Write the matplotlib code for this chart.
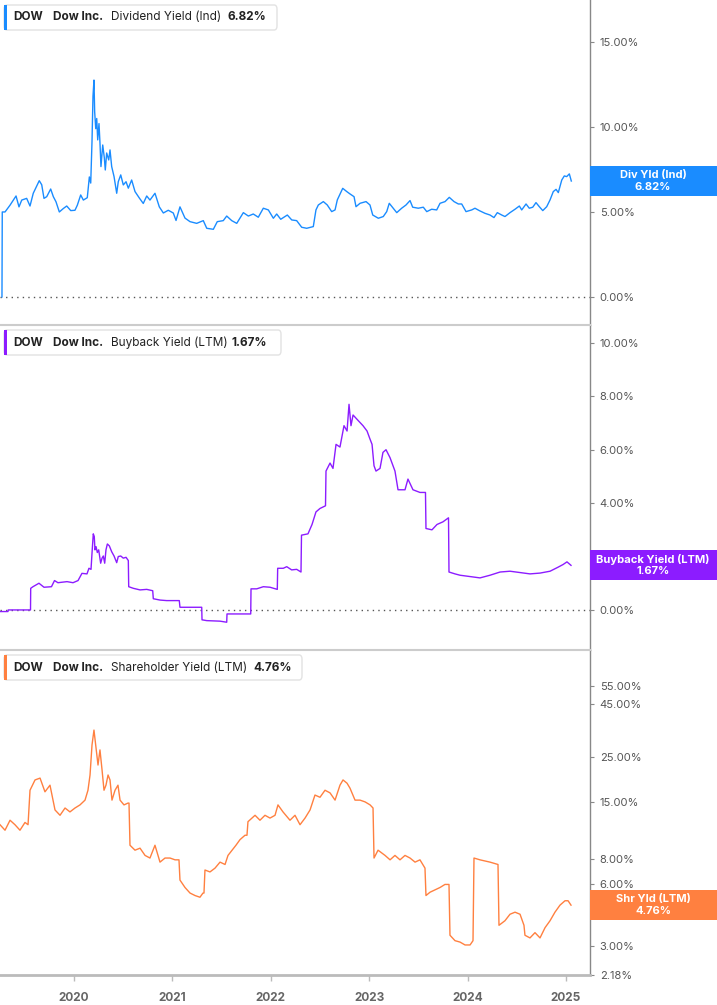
import matplotlib
matplotlib.use("Agg")
import matplotlib.pyplot as plt
from matplotlib.patches import FancyBboxPatch, Rectangle
from matplotlib.ticker import FixedLocator, FuncFormatter, NullLocator

plt.rcParams['font.family'] = ['Inter', 'DejaVu Sans']

# dates are decimal years
div_t = [2019.268, 2019.271, 2019.299, 2019.350, 2019.411, 2019.441, 2019.469, 2019.519, 2019.553, 2019.586,
         2019.647, 2019.672, 2019.695, 2019.723, 2019.763, 2019.790, 2019.817, 2019.851, 2019.891, 2019.926,
         2019.967, 2020.010, 2020.034, 2020.068, 2020.095, 2020.135, 2020.156, 2020.170, 2020.183, 2020.193,
         2020.203, 2020.210, 2020.221, 2020.231, 2020.241, 2020.254, 2020.264, 2020.274, 2020.292, 2020.308,
         2020.318, 2020.332, 2020.353, 2020.366, 2020.383, 2020.407, 2020.434, 2020.450, 2020.475, 2020.501,
         2020.529, 2020.552, 2020.586, 2020.620, 2020.664, 2020.704, 2020.739, 2020.772, 2020.823, 2020.867,
         2020.908, 2020.958, 2021.009, 2021.037, 2021.077, 2021.128, 2021.179, 2021.247, 2021.314, 2021.349,
         2021.416, 2021.456, 2021.517, 2021.552, 2021.603, 2021.654, 2021.721, 2021.772, 2021.822, 2021.873,
         2021.924, 2021.975, 2022.026, 2022.060, 2022.101, 2022.168, 2022.213, 2022.263, 2022.314, 2022.365,
         2022.432, 2022.459, 2022.483, 2022.534, 2022.574, 2022.619, 2022.653, 2022.676, 2022.731, 2022.772,
         2022.805, 2022.846, 2022.866, 2022.907, 2022.968, 2023.008, 2023.036, 2023.093, 2023.143, 2023.178,
         2023.204, 2023.280, 2023.330, 2023.374, 2023.415, 2023.442, 2023.499, 2023.550, 2023.585, 2023.635,
         2023.686, 2023.720, 2023.771, 2023.814, 2023.862, 2023.906, 2023.940, 2023.984, 2024.042, 2024.075,
         2024.119, 2024.177, 2024.228, 2024.268, 2024.302, 2024.347, 2024.380, 2024.431, 2024.482, 2024.526,
         2024.550, 2024.594, 2024.627, 2024.662, 2024.695, 2024.729, 2024.764, 2024.804, 2024.838, 2024.871,
         2024.899, 2024.922, 2024.957, 2024.983, 2025.007, 2025.034, 2025.054]
div_v = [0, 5.0, 5.0, 5.4, 5.94, 5.3, 5.7, 5.8, 5.35, 6.1,
         6.84, 6.6, 5.8, 5.9, 6.35, 5.9, 5.6, 5.0, 5.2, 5.35,
         5.08, 5.1, 5.4, 6.0, 5.7, 5.84, 7.06, 6.7, 9.14, 11.8,
         12.76, 10.9, 9.9, 10.5, 9.24, 10.2, 9.06, 7.67, 8.94, 8.2,
         7.47, 8.47, 8.06, 8.65, 7.67, 7.08, 6.1, 6.78, 7.18, 6.59,
         6.78, 6.4, 6.88, 6.2, 5.82, 5.5, 5.94, 5.7, 6.1, 5.3,
         4.94, 5.1, 4.94, 4.5, 5.3, 4.64, 4.43, 4.33, 4.49, 4.04,
         3.98, 4.43, 4.49, 4.76, 4.49, 4.33, 4.96, 4.76, 4.88, 4.69,
         5.22, 5.12, 4.63, 4.88, 4.57, 4.82, 4.53, 4.49, 4.1, 4.04,
         4.14, 5.12, 5.41, 5.61, 5.41, 5.02, 5.12, 5.71, 6.39, 6.2,
         6.06, 5.9, 5.31, 5.51, 5.61, 5.41, 4.82, 4.63, 4.73, 5.02,
         5.51, 4.96, 5.22, 5.41, 5.67, 5.28, 5.22, 5.28, 5.02, 5.16,
         5.12, 5.51, 5.61, 5.86, 5.61, 5.47, 5.47, 5.02, 5.12, 5.22,
         5.08, 4.92, 4.82, 4.67, 4.96, 4.82, 4.73, 4.96, 5.16, 5.35,
         5.12, 5.47, 5.22, 5.28, 5.55, 5.31, 5.08, 5.31, 5.71, 6.2,
         6.33, 6.14, 6.88, 7.12, 7.08, 7.24, 6.82]

bb_t = [2019.248, 2019.329, 2019.332, 2019.558, 2019.560, 2019.583, 2019.644, 2019.695, 2019.771, 2019.802,
        2019.837, 2019.929, 2019.990, 2020.041, 2020.081, 2020.132, 2020.152, 2020.173, 2020.183, 2020.196,
        2020.206, 2020.213, 2020.224, 2020.237, 2020.251, 2020.271, 2020.285, 2020.298, 2020.312, 2020.325,
        2020.339, 2020.359, 2020.383, 2020.407, 2020.434, 2020.450, 2020.475, 2020.501, 2020.529, 2020.552,
        2020.556, 2020.603, 2020.671, 2020.739, 2020.800, 2020.806, 2020.874, 2020.942, 2021.070, 2021.077,
        2021.298, 2021.301, 2021.349, 2021.484, 2021.552, 2021.555, 2021.619, 2021.796, 2021.799, 2021.857,
        2021.924, 2021.992, 2022.066, 2022.070, 2022.127, 2022.162, 2022.212, 2022.263, 2022.307, 2022.312,
        2022.378, 2022.419, 2022.459, 2022.500, 2022.556, 2022.561, 2022.602, 2022.632, 2022.663, 2022.703,
        2022.744, 2022.775, 2022.795, 2022.815, 2022.836, 2022.886, 2022.937, 2022.978, 2023.008, 2023.029,
        2023.049, 2023.069, 2023.110, 2023.140, 2023.171, 2023.212, 2023.262, 2023.293, 2023.364, 2023.394,
        2023.445, 2023.516, 2023.572, 2023.577, 2023.638, 2023.689, 2023.750, 2023.806, 2023.811, 2023.872,
        2023.923, 2024.025, 2024.126, 2024.228, 2024.330, 2024.431, 2024.533, 2024.634, 2024.736, 2024.838,
        2024.919, 2024.970, 2025.010, 2025.051]
bb_v = [-0.06, -0.06, 0.0, 0.0, 0.81, 0.87, 1.0, 0.85, 0.87, 1.1,
        1.02, 1.06, 1.02, 1.1, 1.37, 1.35, 1.56, 1.52, 2.12, 2.85,
        2.75, 2.25, 2.37, 2.15, 2.25, 1.75, 1.94, 2.02, 1.75, 2.25,
        2.47, 2.4, 2.18, 2.02, 1.77, 2.0, 2.02, 1.94, 1.97, 1.85,
        0.87, 0.81, 0.75, 0.77, 0.72, 0.42, 0.37, 0.35, 0.35, 0.1,
        0.1, -0.37, -0.4, -0.42, -0.46, -0.15, -0.15, -0.15, 0.79, 0.79,
        0.87, 0.85, 0.77, 1.56, 1.56, 1.62, 1.5, 1.52, 1.42, 2.8,
        2.85, 3.2, 3.67, 3.8, 3.9, 5.2, 5.5, 5.3, 6.2, 6.1,
        6.9, 6.7, 7.7, 6.9, 7.3, 7.1, 6.9, 6.7, 6.4, 6.2,
        5.4, 5.2, 5.3, 5.9, 6.0, 5.7, 5.2, 4.5, 4.5, 4.9,
        4.5, 4.4, 4.4, 3.05, 3.0, 3.2, 3.3, 3.45, 1.42, 1.35,
        1.3, 1.25, 1.2, 1.3, 1.42, 1.45, 1.4, 1.35, 1.38, 1.45,
        1.6, 1.7, 1.8, 1.67]

shr_t = [2019.248, 2019.299, 2019.350, 2019.400, 2019.451, 2019.502, 2019.533, 2019.553, 2019.604, 2019.655,
         2019.705, 2019.756, 2019.807, 2019.858, 2019.909, 2019.959, 2020.010, 2020.061, 2020.112, 2020.142,
         2020.163, 2020.183, 2020.203, 2020.224, 2020.244, 2020.264, 2020.285, 2020.305, 2020.325, 2020.346,
         2020.366, 2020.386, 2020.417, 2020.447, 2020.468, 2020.508, 2020.549, 2020.559, 2020.569, 2020.620,
         2020.671, 2020.722, 2020.772, 2020.823, 2020.874, 2020.925, 2020.976, 2021.027, 2021.067, 2021.077,
         2021.128, 2021.179, 2021.230, 2021.280, 2021.311, 2021.321, 2021.331, 2021.382, 2021.433, 2021.484,
         2021.535, 2021.565, 2021.606, 2021.646, 2021.687, 2021.738, 2021.758, 2021.768, 2021.840, 2021.890,
         2021.941, 2021.992, 2022.043, 2022.073, 2022.124, 2022.195, 2022.246, 2022.297, 2022.348, 2022.399,
         2022.449, 2022.500, 2022.551, 2022.602, 2022.653, 2022.703, 2022.734, 2022.775, 2022.805, 2022.856,
         2022.907, 2022.958, 2023.009, 2023.039, 2023.049, 2023.090, 2023.161, 2023.212, 2023.262, 2023.313,
         2023.364, 2023.415, 2023.466, 2023.516, 2023.567, 2023.577, 2023.618, 2023.720, 2023.770, 2023.811,
         2023.821, 2023.872, 2023.923, 2023.974, 2024.025, 2024.055, 2024.065, 2024.126, 2024.228, 2024.309,
         2024.319, 2024.380, 2024.431, 2024.482, 2024.533, 2024.573, 2024.583, 2024.634, 2024.685, 2024.736,
         2024.787, 2024.838, 2024.888, 2024.939, 2024.990, 2025.021, 2025.051]
shr_v = [11.7, 11.0, 12.3, 11.7, 11.0, 12.0, 11.7, 17.2, 19.3, 19.7,
         16.9, 18.2, 13.8, 13.0, 14.1, 13.5, 14.1, 14.6, 15.4, 17.2,
         20.4, 28.5, 33.7, 27.6, 22.8, 27.0, 21.6, 17.2, 18.2, 20.4,
         19.3, 15.4, 17.2, 18.2, 15.4, 14.6, 14.9, 14.9, 9.3, 8.8,
         9.0, 8.3, 8.06, 9.3, 7.7, 8.06, 8.06, 7.9, 7.9, 6.3,
         5.8, 5.45, 5.3, 5.2, 5.45, 5.45, 7.05, 6.9, 7.2, 7.7,
         7.5, 8.3, 8.8, 9.3, 9.9, 10.4, 10.4, 12.1, 13.0, 12.3,
         13.0, 12.6, 13.0, 14.6, 13.5, 12.3, 13.0, 11.7, 12.6, 13.8,
         16.3, 15.9, 17.2, 16.7, 15.4, 18.2, 19.3, 18.6, 17.6, 15.4,
         15.4, 15.1, 14.6, 14.1, 8.06, 8.8, 8.3, 7.9, 8.3, 7.9,
         8.3, 8.06, 7.7, 7.9, 7.2, 5.3, 5.5, 5.8, 6.0, 6.0,
         3.4, 3.2, 3.15, 3.05, 3.05, 3.2, 8.06, 7.9, 7.7, 7.5,
         3.8, 4.0, 4.3, 4.4, 4.3, 3.8, 3.4, 3.3, 3.5, 3.3,
         3.7, 4.0, 4.4, 4.76, 5.0, 5.0, 4.76]

year_ticks = [2020, 2021, 2022, 2023, 2024, 2025]
x_range = (2019.248, 2025.244)

panels = [
    dict(t=div_t, v=div_v, color='#1a8cff', name='Dividend Yield (Ind)', short='Div Yld (Ind)',
         last=6.82, ticks=[0, 5, 10, 15], ylim=(-1.65, 17.47), log=False, val_x=228),
    dict(t=bb_t, v=bb_v, color='#8c1cff', name='Buyback Yield (LTM)', short='Buyback Yield (LTM)',
         last=1.67, ticks=[0, 2, 4, 6, 8, 10], ylim=(-1.5, 10.67), log=False, val_x=232),
    dict(t=shr_t, v=shr_v, color='#ff8040', name='Shareholder Yield (LTM)', short='Shr Yld (LTM)',
         last=4.76, ticks=[2.18, 3, 6, 8, 15, 25, 45, 55], ylim=(2.18, 82.5), log=True, val_x=253),
]

W, H = 717, 1005
AX_W = 590
PANEL_H = 325
fig = plt.figure(figsize=(W / 100, H / 100), dpi=100)


def fx(x):
    return x / W


def fy(y):
    return 1 - y / H


for i, p in enumerate(panels):
    top = i * PANEL_H
    ax = fig.add_axes([0, fy(top + PANEL_H), fx(AX_W), PANEL_H / H])
    ax.plot(p['t'], p['v'], color=p['color'], lw=1.0, zorder=3)
    if p['log']:
        ax.set_yscale('log')
    else:
        ax.axhline(0, color='#555555', lw=1, ls=(0, (1, 3)), zorder=2)
    ax.set_xlim(*x_range)
    ax.set_ylim(*p['ylim'])
    ax.yaxis.tick_right()
    ax.yaxis.set_major_locator(FixedLocator(p['ticks']))
    ax.yaxis.set_minor_locator(NullLocator())
    ax.yaxis.set_major_formatter(FuncFormatter(lambda v, pos: f'{v:.2f}%'))
    ax.tick_params(axis='y', length=3, width=0.8, color='#888888', labelcolor='#555555',
                   labelsize=8, pad=4)
    for s in ['left', 'bottom', 'top', 'right']:
        ax.spines[s].set_visible(False)
    ax.spines['right'].set_visible(True)
    ax.spines['right'].set_color('#888888')
    ax.spines['right'].set_linewidth(1)
    if i > 0:
        ax.spines['top'].set_visible(True)
        ax.spines['top'].set_color('#cccccc')
        ax.spines['top'].set_linewidth(1.5)
    if i == 2:
        ax.spines['bottom'].set_visible(True)
        ax.spines['bottom'].set_color('#bbbbbb')
        ax.spines['bottom'].set_linewidth(2)
        ax.set_xticks(year_ticks)
        ax.set_xticklabels([str(y) for y in year_ticks])
        ax.tick_params(axis='x', length=4, width=1, color='#bbbbbb', labelcolor='#666666',
                       labelsize=8.5, pad=8)
        for lab in ax.get_xticklabels():
            lab.set_fontweight('bold')
    else:
        ax.set_xticks([])

    # legend box at top-left
    lx0, lx1 = 4, p['val_x'] + 49
    ly0, ly1 = top + 5, top + 30
    box = FancyBboxPatch((fx(lx0), fy(ly1)), fx(lx1 - lx0), (ly1 - ly0) / H,
                         boxstyle='round,pad=0,rounding_size=0.004', transform=fig.transFigure,
                         facecolor='white', edgecolor='#e2e2e2', lw=1, zorder=5)
    fig.add_artist(box)
    fig.add_artist(Rectangle((fx(4), fy(ly1)), fx(3), (ly1 - ly0) / H, transform=fig.transFigure,
                             facecolor=p['color'], edgecolor='none', zorder=6))
    ty = fy(top + 17.5)
    fig.text(fx(13), ty, 'DOW', fontsize=8.5, fontweight='bold', color='#222222', va='center', zorder=7)
    fig.text(fx(53), ty, 'Dow Inc.', fontsize=8.5, fontweight='bold', color='#222222', va='center', zorder=7)
    fig.text(fx(111), ty, p['name'], fontsize=8.5, color='#222222', va='center', zorder=7)
    fig.text(fx(p['val_x']), ty, f"{p['last']:.2f}%", fontsize=8.5, fontweight='bold', color='#222222',
             va='center', zorder=7)

    # last value tag at right
    _, yd = ax.transData.transform((x_range[1], p['last']))
    yc = H - yd
    fig.add_artist(Rectangle((fx(AX_W), fy(yc + 15)), fx(W - AX_W), 30 / H, transform=fig.transFigure,
                             facecolor=p['color'], edgecolor='none', zorder=8))
    fig.text(fx(653), fy(yc - 6), p['short'], fontsize=8, fontweight='bold', color='white',
             ha='center', va='center', zorder=9)
    fig.text(fx(653), fy(yc + 6), f"{p['last']:.2f}%", fontsize=8, fontweight='bold', color='white',
             ha='center', va='center', zorder=9)

fig.savefig('out.png', dpi=100, facecolor='white')
